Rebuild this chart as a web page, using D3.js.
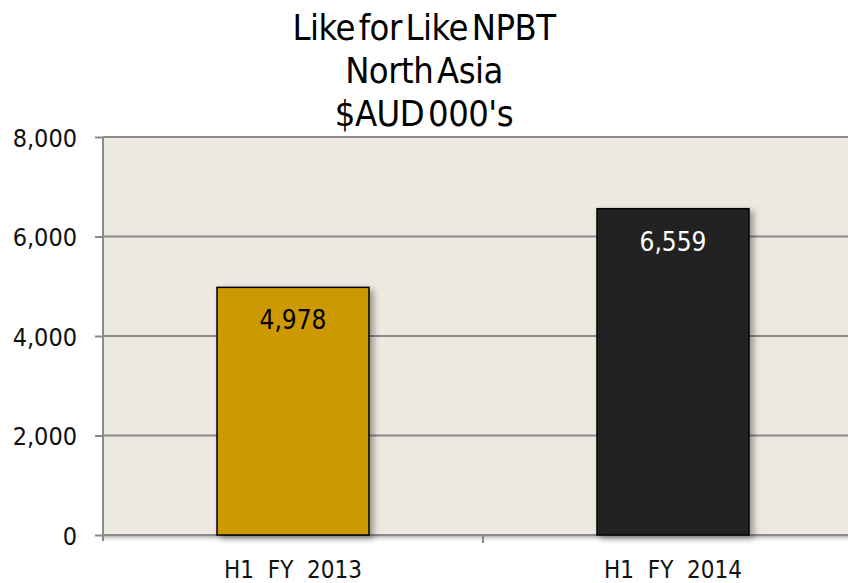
<!DOCTYPE html>
<html>
<head>
<meta charset="utf-8">
<script src="https://cdn.jsdelivr.net/npm/d3@7"></script>
<style>
  body { margin: 0; background: #fff; }
  svg { display: block; }
</style>
</head>
<body>
<svg width="848" height="583"></svg>
<script>
var titleLines = ['Like for Like NPBT', 'North Asia', "$AUD 000's"]
var categories = ['H1  FY  2013', 'H1  FY  2014']
var values = [4978, 6559]
var barColors = ['#cc9900', '#222222']
var labelColors = ['#000000', '#ffffff']
var yTicks = [0, 2000, 4000, 6000, 8000]

var svg = d3.select('svg')

var plotLeft = 103, plotRight = 863, plotTop = 137, plotBottom = 535
var axisGray = '#8a8a8a'
var bodyFont = '"DejaVu Sans Condensed", "DejaVu Sans", sans-serif'

var x = d3.scaleBand()
    .domain(categories)
    .range([plotLeft, plotRight])
    .paddingInner(0.6)
    .paddingOuter(0.3)

var y = d3.scaleLinear()
    .domain([0, 8000])
    .range([plotBottom, plotTop])

var defs = svg.append('defs')
var shadow = defs.append('filter').attr('id', 'shadow')
    .attr('x', '-20%').attr('y', '-20%').attr('width', '150%').attr('height', '150%')
shadow.append('feDropShadow')
    .attr('dx', 4).attr('dy', 3).attr('stdDeviation', 3)
    .attr('flood-color', '#000').attr('flood-opacity', 0.35)

// plot background
svg.append('rect')
    .attr('x', plotLeft).attr('y', plotTop)
    .attr('width', plotRight - plotLeft).attr('height', plotBottom - plotTop)
    .attr('fill', '#ece9e0')

// soft shadow under the bottom axis
var grad = defs.append('linearGradient').attr('id', 'under')
    .attr('x1', 0).attr('y1', 0).attr('x2', 0).attr('y2', 1)
grad.append('stop').attr('offset', 0).attr('stop-color', '#999').attr('stop-opacity', 0.7)
grad.append('stop').attr('offset', 1).attr('stop-color', '#fff').attr('stop-opacity', 0)
svg.append('rect')
    .attr('x', plotLeft).attr('y', plotBottom + 1)
    .attr('width', plotRight - plotLeft).attr('height', 7)
    .attr('fill', 'url(#under)')

// gridlines
svg.append('g')
    .selectAll('line')
    .data(yTicks.filter(d => d > 0))
    .enter().append('line')
    .attr('x1', plotLeft).attr('x2', plotRight)
    .attr('y1', d => y(d)).attr('y2', d => y(d))
    .style('stroke', axisGray)
    .style('stroke-width', 2)

// y axis
var yAxis = svg.append('g')
    .attr('transform', `translate(${plotLeft},0)`)
    .call(d3.axisLeft(y).tickValues(yTicks).tickFormat(d3.format(',')).tickSize(8).tickPadding(18))
yAxis.select('.domain').remove()
yAxis.selectAll('.tick line').style('stroke', axisGray).style('stroke-width', 2)
yAxis.selectAll('text')
    .style('font-family', bodyFont)
    .style('font-size', '25px')
    .style('fill', '#111')
    .attr('dy', '0.36em')
svg.append('line')
    .attr('x1', plotLeft).attr('x2', plotLeft)
    .attr('y1', plotTop).attr('y2', plotBottom + 6)
    .style('stroke', axisGray).style('stroke-width', 2)

// x axis
var divider = x(categories[1]) - x.step() * x.paddingInner() / 2
svg.append('line')
    .attr('x1', plotLeft).attr('x2', plotRight)
    .attr('y1', plotBottom).attr('y2', plotBottom)
    .style('stroke', axisGray).style('stroke-width', 2)
svg.append('line')
    .attr('x1', divider).attr('x2', divider)
    .attr('y1', plotBottom).attr('y2', plotBottom + 8)
    .style('stroke', axisGray).style('stroke-width', 2)

svg.append('g')
    .selectAll('text')
    .data(categories)
    .enter().append('text')
    .attr('x', d => x(d) + x.bandwidth() / 2)
    .attr('y', 578)
    .attr('text-anchor', 'middle')
    .style('white-space', 'pre')
    .style('font-family', bodyFont)
    .style('font-size', '24px')
    .style('fill', '#111')
    .text(d => d)

// bars
svg.append('g')
    .selectAll('rect')
    .data(values)
    .enter().append('rect')
    .attr('x', (d, i) => x(categories[i]))
    .attr('y', d => y(d))
    .attr('width', x.bandwidth())
    .attr('height', d => plotBottom - y(d))
    .attr('fill', (d, i) => barColors[i])
    .style('stroke', '#000')
    .style('stroke-width', 1.5)
    .attr('filter', 'url(#shadow)')

// value labels
svg.append('g')
    .selectAll('text')
    .data(values)
    .enter().append('text')
    .attr('x', (d, i) => x(categories[i]) + x.bandwidth() / 2)
    .attr('y', d => y(d) + 42)
    .attr('text-anchor', 'middle')
    .style('font-family', bodyFont)
    .style('font-size', '26px')
    .style('fill', (d, i) => labelColors[i])
    .text(d => d3.format(',')(d))

// title
svg.append('g')
    .selectAll('text')
    .data(titleLines)
    .enter().append('text')
    .attr('x', 424)
    .attr('y', (d, i) => 40 + i * 43)
    .attr('text-anchor', 'middle')
    .style('font-family', '"Liberation Sans Narrow", "DejaVu Sans Condensed", sans-serif')
    .style('font-size', '36px')
    .style('font-weight', '500')
    .style('letter-spacing', '-0.5px')
    .style('word-spacing', '-6px')
    .style('fill', '#000')
    .text(d => d)
</script>
</body>
</html>
